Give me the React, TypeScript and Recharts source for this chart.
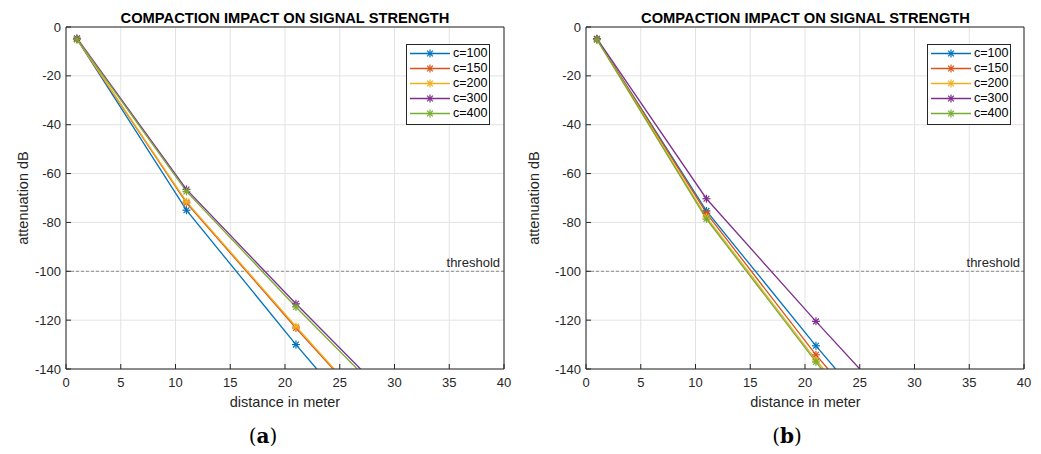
import React from 'react';
import { LineChart, Line, XAxis, YAxis, CartesianGrid, ReferenceLine, Legend } from 'recharts';

// ---- shared ----
const SERIES_NAMES = ['c=100', 'c=150', 'c=200', 'c=300', 'c=400'];
const COLORS = ['#0072BD', '#D95319', '#EDB120', '#7E2F8E', '#77AC30'];
const MARKER_DIST = [1, 11, 21];
const X_TICKS = [0, 5, 10, 15, 20, 25, 30, 35, 40];
const Y_TICKS = [-140, -120, -100, -80, -60, -40, -20, 0];
const THRESHOLD = -100;
const Y_MIN = -140;
const TITLE = 'COMPACTION IMPACT ON SIGNAL STRENGTH';

// ---- panel (a) ----
const aC100 = [-5, -75, -130];
const aC150 = [-5, -72, -123.2];
const aC200 = [-5, -71.5, -122.6];
const aC300 = [-4.6, -66.5, -113.3];
const aC400 = [-5, -67.3, -114.6];
const aEnd = [22.9, 24.4, 24.5, 26.9, 26.6]; // distance where each curve reaches -140

// ---- panel (b) ----
const bC100 = [-5, -75.3, -130.5];
const bC150 = [-5, -76.2, -134.2];
const bC200 = [-5, -77.8, -136.3];
const bC300 = [-4.8, -70.3, -120.5];
const bC400 = [-5.2, -78.6, -137.1];
const bEnd = [22.8, 22.1, 21.7, 25.0, 21.5];

const FONT = '"Liberation Sans", Arial, Helvetica, sans-serif';
const AXIS_COLOR = '#262626';

type Pt = { d: number; v: number; m: boolean };

function buildSeries(vals: number[], end: number): Pt[] {
  const pts: Pt[] = MARKER_DIST.map((d, i) => ({ d, v: vals[i], m: true }));
  pts.push({ d: end, v: Y_MIN, m: false });
  return pts;
}

function Star({ cx, cy, color }: { cx: number; cy: number; color: string }) {
  const r = 4;
  const q = 2.9;
  return (
    <g stroke={color} strokeWidth={1.2} fill="none">
      <line x1={cx - r} y1={cy} x2={cx + r} y2={cy} />
      <line x1={cx} y1={cy - r} x2={cx} y2={cy + r} />
      <line x1={cx - q} y1={cy - q} x2={cx + q} y2={cy + q} />
      <line x1={cx - q} y1={cy + q} x2={cx + q} y2={cy - q} />
    </g>
  );
}

function LegendBox() {
  return (
    <div
      style={{
        width: 82,
        height: 78,
        border: '1px solid #262626',
        background: '#fff',
        boxSizing: 'content-box',
        fontFamily: FONT,
        fontSize: 12.5,
        color: '#000',
        paddingTop: 1,
      }}
    >
      {SERIES_NAMES.map((n, i) => (
        <div key={n} style={{ height: 15, display: 'flex', alignItems: 'center' }}>
          <svg width={46} height={15} style={{ display: 'block' }}>
            <line x1={3} y1={7.5} x2={43} y2={7.5} stroke={COLORS[i]} strokeWidth={1.3} />
            <Star cx={23} cy={7.5} color={COLORS[i]} />
          </svg>
          <span style={{ lineHeight: '15px' }}>{n}</span>
        </div>
      ))}
    </div>
  );
}

function Panel({ series, ends, legendLeft }: { series: number[][]; ends: number[]; legendLeft: number }) {
  const lines = series.map((vals, i) => buildSeries(vals, ends[i]));
  const tickStyle = { fontSize: 13, fill: AXIS_COLOR, fontFamily: FONT };
  return (
    <LineChart width={520} height={454} margin={{ top: 26, right: 15, bottom: 55, left: 16 }}>
      <CartesianGrid stroke="#e3e3e3" strokeWidth={1} />
      <XAxis
        dataKey="d"
        type="number"
        domain={[0, 40]}
        ticks={X_TICKS}
        allowDataOverflow
        height={30}
        tickSize={-5}
        tickMargin={14}
        tick={tickStyle}
        stroke={AXIS_COLOR}
        interval={0}
      />
      <XAxis
        xAxisId="top"
        orientation="top"
        type="number"
        domain={[0, 40]}
        ticks={X_TICKS}
        height={1}
        tickSize={-5}
        tick={false}
        stroke={AXIS_COLOR}
        interval={0}
      />
      <YAxis
        type="number"
        domain={[Y_MIN, 0]}
        ticks={Y_TICKS}
        allowDataOverflow
        width={50}
        tickSize={-5}
        tickMargin={10}
        tick={tickStyle}
        stroke={AXIS_COLOR}
        interval={0}
      />
      <YAxis
        yAxisId="right"
        orientation="right"
        type="number"
        domain={[Y_MIN, 0]}
        ticks={Y_TICKS}
        width={1}
        tickSize={-5}
        tick={false}
        stroke={AXIS_COLOR}
        interval={0}
      />
      <ReferenceLine
        y={THRESHOLD}
        stroke="#8c8c8c"
        strokeDasharray="3 2"
        strokeWidth={1}
        label={{
          value: 'threshold',
          position: 'insideBottomRight',
          offset: 4,
          fontSize: 13,
          fill: AXIS_COLOR,
          fontFamily: FONT,
        }}
      />
      {lines.map((data, i) => (
        <Line
          key={SERIES_NAMES[i]}
          name={SERIES_NAMES[i]}
          data={data}
          dataKey="v"
          stroke={COLORS[i]}
          strokeWidth={1.3}
          isAnimationActive={false}
          dot={(p: any) =>
            p.payload && p.payload.m ? (
              <Star key={`s${i}-${p.index}`} cx={p.cx} cy={p.cy} color={COLORS[i]} />
            ) : (
              <g key={`s${i}-${p.index}`} />
            )
          }
          activeDot={false}
        />
      ))}
      <Legend
        layout="vertical"
        align="center"
        verticalAlign="middle"
        wrapperStyle={{ left: legendLeft, top: 44, width: 84 }}
        content={() => <LegendBox />}
      />
    </LineChart>
  );
}

function Texts() {
  const t = { fontFamily: FONT, fill: '#000' } as const;
  return (
    <svg
      width={1041}
      height={454}
      style={{ position: 'absolute', left: 0, top: 0, pointerEvents: 'none' }}
    >
      <text x={285} y={23.3} textAnchor="middle" fontSize={14.7} fontWeight="bold" {...t}>
        {TITLE}
      </text>
      <text x={805.5} y={23.3} textAnchor="middle" fontSize={14.7} fontWeight="bold" {...t}>
        {TITLE}
      </text>
      <text
        x={0}
        y={0}
        transform="translate(28,198) rotate(-90)"
        textAnchor="middle"
        fontSize={14.5}
        fill={AXIS_COLOR}
        fontFamily={FONT}
      >
        attenuation dB
      </text>
      <text
        x={0}
        y={0}
        transform="translate(538.5,198) rotate(-90)"
        textAnchor="middle"
        fontSize={14.5}
        fill={AXIS_COLOR}
        fontFamily={FONT}
      >
        attenuation dB
      </text>
      <text x={285} y={407} textAnchor="middle" fontSize={14.5} fill={AXIS_COLOR} fontFamily={FONT}>
        distance in meter
      </text>
      <text x={805.5} y={407} textAnchor="middle" fontSize={14.5} fill={AXIS_COLOR} fontFamily={FONT}>
        distance in meter
      </text>
      <text x={263} y={443} textAnchor="middle" fontSize={20} fontFamily='"DejaVu Serif", serif' fill="#000">
        (<tspan fontWeight="bold">a</tspan>)
      </text>
      <text x={787} y={443} textAnchor="middle" fontSize={20} fontFamily='"DejaVu Serif", serif' fill="#000">
        (<tspan fontWeight="bold">b</tspan>)
      </text>
    </svg>
  );
}

export default function App() {
  return (
    <div
      style={{
        position: 'absolute',
        left: 0,
        top: 0,
        width: 1041,
        height: 454,
        background: '#fff',
        overflow: 'hidden',
      }}
    >
      <div style={{ position: 'absolute', left: 0, top: 0 }}>
        <Panel series={[aC100, aC150, aC200, aC300, aC400]} ends={aEnd} legendLeft={406} />
      </div>
      <div style={{ position: 'absolute', left: 520, top: 0 }}>
        <Panel series={[bC100, bC150, bC200, bC300, bC400]} ends={bEnd} legendLeft={407} />
      </div>
      <Texts />
    </div>
  );
}
